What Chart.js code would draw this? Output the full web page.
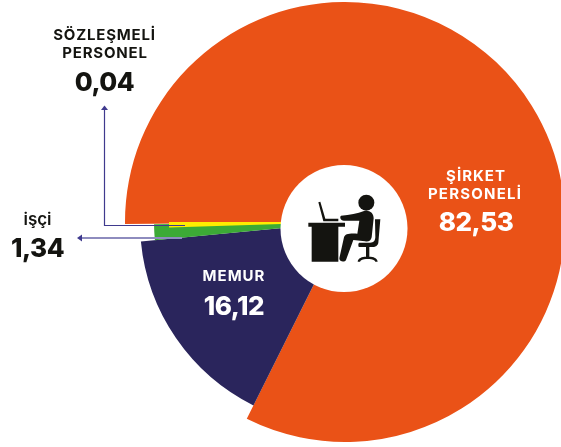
<!DOCTYPE html>
<html lang="tr">
<head>
<meta charset="utf-8">
<title>Personel dağılımı</title>
<script src="https://cdn.jsdelivr.net/npm/chart.js@4"></script>
<style>
html,body{margin:0;padding:0;background:#fff;overflow:hidden;width:561px;height:447px}
canvas{display:block}
</style>
</head>
<body>
<canvas id="c" width="580" height="447"></canvas>
<script>
const categories = ["ŞİRKET PERSONELİ", "MEMUR", "İŞÇİ", "SÖZLEŞMELİ PERSONEL"];
const shares = [82.53, 16.12, 1.34, 0.04];
const sliceColors = ["#EA5217", "#2A255C", "#3CAA36", "#FFED00"];
const sliceRadiusScale = [1, 0.932, 0.868, 0.8];
const sliverBackDeg = 1.3;
const sliverForwardDeg = 0.5;
const ink = "#141410";
const arrowDark = "#3F3A8E";
const arrowLight = "#8E8CBE";
const fontFamily = "Inter, 'Open Sans', sans-serif";

const fmt = v => v.toFixed(2).replace(".", ",");

function text(ctx, str, x, y, size, weight, color, spacing) {
  ctx.font = weight + " " + size + "px " + fontFamily;
  ctx.fillStyle = color;
  ctx.textAlign = "center";
  ctx.textBaseline = "alphabetic";
  ctx.letterSpacing = (spacing || 0) + "px";
  ctx.fillText(str, x, y);
  ctx.letterSpacing = "0px";
}

const sliceShape = {
  id: "sliceShape",
  beforeDatasetsDraw(chart) {
    const arcs = chart.getDatasetMeta(0).data;
    const base = chart.getDatasetMeta(0).controller.outerRadius;
    const minSweep = (sliverBackDeg + sliverForwardDeg) * Math.PI / 180;
    arcs.forEach((arc, i) => {
      arc.outerRadius = base * sliceRadiusScale[i];
      if (arc.circumference < minSweep) {
        arc.startAngle = arc.endAngle - sliverBackDeg * Math.PI / 180;
        arc.endAngle = arc.startAngle + minSweep;
        arc.circumference = minSweep;
      }
    });
  }
};

const hubIcon =
  "M145 157 L151 155 L166 206 L205 206 L205 214 L160 214 Z" +
  "M115 218 L225 218 L225 230 L205 230 L205 335 L125 335 L125 230 L115 230 Z" +
  "M213 197 C240 196 262 190 282 183 C300 180 311 190 311 205 L305 262 C303 272 296 276 285 274 L250 270 L228 330 C224 338 208 336 208 325 L222 262 C226 252 234 250 262 251 L268 212 L222 212 C210 212 209 199 213 197 Z" +
  "M315 208 L331 208 L325 278 C323 288 316 291 305 291 L298 291 L298 320 C310 320 322 324 323 335 L316 335 C314 330 306 327 298 327 L288 327 C280 327 272 330 270 335 L263 335 C264 324 276 320 288 320 L288 291 L268 291 C264 291 264 278 268 278 L300 278 C312 278 315 272 316 262 Z";

const overlay = {
  id: "overlay",
  afterDatasetsDraw(chart) {
    const ctx = chart.ctx;
    const arc0 = chart.getDatasetMeta(0).data[0];
    const cx = arc0.x, cy = arc0.y;
    ctx.save();

    // centre disc
    ctx.fillStyle = "#fff";
    ctx.beginPath();
    ctx.arc(cx - 1, cy + 6.5, 63.5, 0, Math.PI * 2);
    ctx.fill();

    // desk icon
    ctx.save();
    ctx.translate(270, 150);
    ctx.scale(1 / 3, 1 / 3);
    ctx.fillStyle = ink;
    ctx.fill(new Path2D(hubIcon));
    ctx.beginPath();
    ctx.arc(289, 158, 24, 0, Math.PI * 2);
    ctx.fill();
    ctx.restore();

    // leader arrows
    ctx.lineWidth = 1.2;
    ctx.strokeStyle = arrowDark;
    ctx.beginPath();
    ctx.moveTo(185, 225.5);
    ctx.lineTo(104.5, 225.5);
    ctx.lineTo(104.5, 108);
    ctx.stroke();
    ctx.fillStyle = arrowDark;
    ctx.beginPath();
    ctx.moveTo(104.5, 105.5);
    ctx.lineTo(101, 110);
    ctx.lineTo(108, 110);
    ctx.closePath();
    ctx.fill();

    ctx.strokeStyle = arrowLight;
    ctx.lineWidth = 1.8;
    ctx.beginPath();
    ctx.moveTo(182, 238);
    ctx.lineTo(80, 238);
    ctx.stroke();
    ctx.fillStyle = arrowDark;
    ctx.beginPath();
    ctx.moveTo(77, 238);
    ctx.lineTo(82, 234.5);
    ctx.lineTo(82, 241.5);
    ctx.closePath();
    ctx.fill();

    // labels
    text(ctx, "ŞİRKET", 476, 181, 15, 700, "#fff", 1);
    text(ctx, "PERSONELİ", 475, 199, 15, 700, "#fff", 1.2);
    text(ctx, fmt(shares[0]), 476, 231, 26, 800, "#fff", -0.5);

    text(ctx, categories[1], 234, 281, 15, 700, "#fff", 1);
    text(ctx, fmt(shares[1]), 234, 315, 26, 800, "#fff", -0.5);

    text(ctx, "işçi", 37.5, 225, 17, 600, ink, 0);
    text(ctx, fmt(shares[2]), 37.5, 257, 26, 800, ink, -0.5);

    text(ctx, "SÖZLEŞMELİ", 104.5, 40, 15, 700, ink, 0.8);
    text(ctx, "PERSONEL", 105, 58, 15, 700, ink, 0.8);
    text(ctx, fmt(shares[3]), 104.5, 91, 26, 800, ink, -0.5);

    ctx.restore();
  }
};

new Chart(document.getElementById("c"), {
  type: "pie",
  data: {
    labels: categories,
    datasets: [{
      data: shares,
      backgroundColor: sliceColors,
      borderWidth: 0
    }]
  },
  options: {
    responsive: false,
    animation: false,
    rotation: 269.5,
    devicePixelRatio: 1,
    layout: { padding: { left: 125, right: 15, top: 2, bottom: 5 } },
    plugins: { legend: { display: false }, tooltip: { enabled: false } },
    events: []
  },
  plugins: [sliceShape, overlay]
});
</script>
</body>
</html>
